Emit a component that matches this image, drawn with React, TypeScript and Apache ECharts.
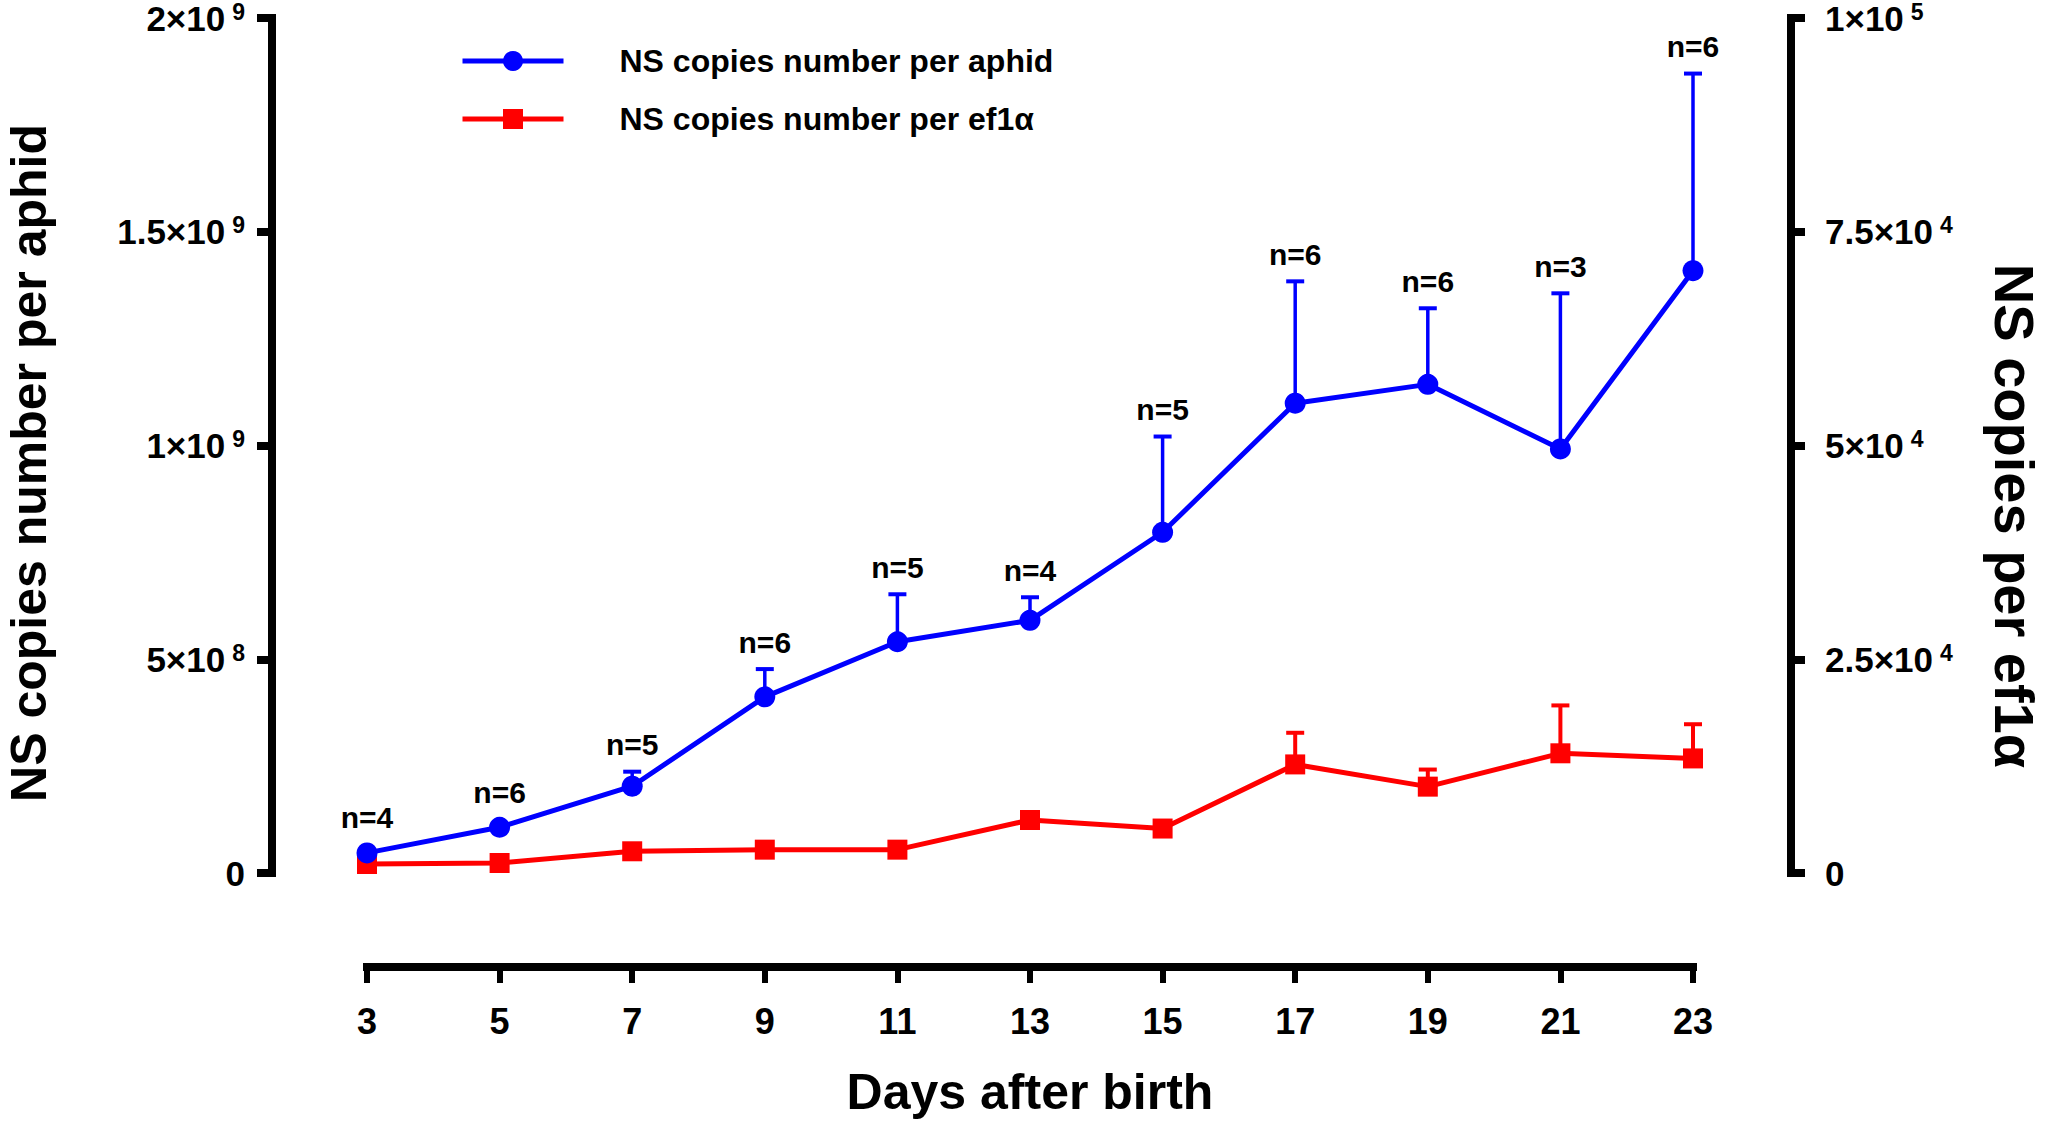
import React, { useEffect, useRef } from "react";
import * as echarts from "echarts";

const FONT = '"Liberation Sans", Arial, Helvetica, sans-serif';

const days = ["3", "5", "7", "9", "11", "13", "15", "17", "19", "21", "23"];
const nLabels = [4, 6, 5, 6, 5, 4, 5, 6, 6, 3, 6];

// NS copies number per aphid (left axis)
const blueMean = [0.047e9, 0.107e9, 0.203e9, 0.412e9, 0.541e9, 0.591e9, 0.797e9, 1.099e9, 1.143e9, 0.992e9, 1.409e9];
const blueSD = [0, 0, 0.034e9, 0.065e9, 0.111e9, 0.054e9, 0.224e9, 0.285e9, 0.178e9, 0.364e9, 0.461e9];

// NS copies per ef1α (right axis)
const redMean = [1.05e3, 1.17e3, 2.54e3, 2.73e3, 2.73e3, 6.2e3, 5.2e3, 12.7e3, 10.1e3, 14.0e3, 13.4e3];
const redSD = [0, 0, 0, 0, 0, 0, 0, 3.7e3, 2.0e3, 5.6e3, 4.0e3];

const leftAxis = { min: 0, max: 2e9, interval: 5e8 };
const rightAxis = { min: 0, max: 1e5, interval: 2.5e4 };

const blueName = "NS copies number per aphid";
const redName = "NS copies number per ef1α";

function sciLabel(v: number): string {
  if (v === 0) return "{b|0}";
  const exp = Math.floor(Math.log10(v) + 1e-9);
  const mant = Math.round((v / Math.pow(10, exp)) * 100) / 100;
  return `{b|${mant}×10}{s|${exp}}`;
}

const richLabel = {
  b: { fontSize: 35, fontWeight: "bold", fontFamily: FONT, color: "#000", lineHeight: 36 },
  s: { fontSize: 23, fontWeight: "bold", fontFamily: FONT, color: "#000", lineHeight: 23, verticalAlign: "top", padding: [0, 0, 0, 7] },
};

function errorBarSeries(name: string, mean: number[], sd: number[], axisIdx: number, color: string, lw: number) {
  return {
    type: "custom",
    name: name + " SD",
    yAxisIndex: axisIdx,
    z: 1,
    silent: true,
    data: mean.map((m, i) => [i, m, m + sd[i]]),
    renderItem: (params: any, api: any) => {
      const i = api.value(0);
      const m = api.value(1);
      const t = api.value(2);
      if (!(t > m)) return { type: "group", children: [] };
      const p0 = api.coord([i, m]);
      const p1 = api.coord([i, t]);
      const half = 9;
      return {
        type: "group",
        children: [
          { type: "line", shape: { x1: p0[0], y1: p0[1], x2: p1[0], y2: p1[1] }, style: { stroke: color, lineWidth: lw } },
          { type: "line", shape: { x1: p1[0] - half, y1: p1[1], x2: p1[0] + half, y2: p1[1] }, style: { stroke: color, lineWidth: 4 } },
        ],
      };
    },
  };
}

export default function App() {
  const ref = useRef<HTMLDivElement>(null);

  useEffect(() => {
    if (!ref.current) return;
    const chart = echarts.init(ref.current, undefined, { renderer: "svg" });
    const option: any = {
      animation: false,
      backgroundColor: "#ffffff",
      textStyle: { fontFamily: FONT },
      grid: { left: 367, right: 354, top: 18, bottom: 248, containLabel: false, outerBoundsMode: "none" },
      legend: {
        orient: "vertical",
        left: 455,
        top: 39,
        itemWidth: 101,
        itemHeight: 25,
        itemGap: 24,
        selectedMode: false,
        data: [blueName, redName],
        lineStyle: { width: 5 },
        textStyle: { fontSize: 32, fontWeight: "bold", color: "#000", fontFamily: FONT, lineHeight: 34, padding: [0, 0, 0, 51] },
      },
      xAxis: {
        type: "category",
        data: days,
        boundaryGap: false,
        offset: 94,
        name: "Days after birth",
        nameLocation: "middle",
        nameGap: 100,
        nameTextStyle: { fontSize: 50, fontWeight: "bold", color: "#000", fontFamily: FONT },
        axisLine: { onZero: false, lineStyle: { color: "#000", width: 8, cap: "square" } },
        axisTick: { length: 16, lineStyle: { color: "#000", width: 6 } },
        axisLabel: { margin: 36, fontSize: 36, fontWeight: "bold", color: "#000", fontFamily: FONT },
        splitLine: { show: false },
      },
      yAxis: [
        {
          type: "value",
          position: "left",
          offset: 95,
          min: leftAxis.min,
          max: leftAxis.max,
          interval: leftAxis.interval,
          axisLine: { show: true, onZero: false, lineStyle: { color: "#000", width: 8, cap: "square" } },
          axisTick: { show: true, length: 15, lineStyle: { color: "#000", width: 8 } },
          axisLabel: { margin: 27, formatter: (v: number) => sciLabel(v), rich: richLabel },
          splitLine: { show: false },
        },
        {
          type: "value",
          position: "right",
          offset: 98,
          min: rightAxis.min,
          max: rightAxis.max,
          interval: rightAxis.interval,
          axisLine: { show: true, onZero: false, lineStyle: { color: "#000", width: 8, cap: "square" } },
          axisTick: { show: true, length: 14, lineStyle: { color: "#000", width: 8 } },
          axisLabel: { margin: 34, formatter: (v: number) => sciLabel(v), rich: richLabel },
          splitLine: { show: false },
        },
      ],
      graphic: [
        {
          type: "text",
          x: 29,
          y: 463,
          rotation: Math.PI / 2,
          style: {
            text: "NS copies number per aphid",
            font: `bold 50px ${FONT}`,
            fill: "#000",
            align: "center",
            verticalAlign: "middle",
            textAlign: "center",
            textVerticalAlign: "middle",
          },
        },
        {
          type: "text",
          x: 2014,
          y: 516,
          rotation: -Math.PI / 2,
          style: {
            text: "NS copies per ef1α",
            font: `bold 56px ${FONT}`,
            fill: "#000",
            align: "center",
            verticalAlign: "middle",
            textAlign: "center",
            textVerticalAlign: "middle",
          },
        },
      ],
      series: [
        errorBarSeries(redName, redMean, redSD, 1, "#ff0000", 4),
        errorBarSeries(blueName, blueMean, blueSD, 0, "#0000ff", 3.5),
        {
          type: "line",
          name: redName,
          yAxisIndex: 1,
          data: redMean,
          z: 3,
          symbol: "rect",
          symbolSize: 20,
          itemStyle: { color: "#ff0000" },
          lineStyle: { color: "#ff0000", width: 5 },
        },
        {
          type: "line",
          name: blueName,
          yAxisIndex: 0,
          data: blueMean,
          z: 4,
          symbol: "circle",
          symbolSize: 21,
          itemStyle: { color: "#0000ff" },
          lineStyle: { color: "#0000ff", width: 5 },
        },
        {
          type: "custom",
          name: "n",
          yAxisIndex: 0,
          z: 5,
          silent: true,
          data: blueMean.map((m, i) => [i, m, m + blueSD[i]]),
          renderItem: (params: any, api: any) => {
            const i = api.value(0);
            const m = api.value(1);
            const t = api.value(2);
            const p = api.coord([i, t]);
            const off = t > m ? 27 : 35;
            return {
              type: "text",
              x: p[0],
              y: p[1] - off,
              style: {
                text: "n=" + nLabels[params.dataIndex],
                font: `bold 30px ${FONT}`,
                fill: "#000",
                align: "center",
                verticalAlign: "middle",
              },
            };
          },
        },
      ],
    };
    chart.setOption(option);
    return () => chart.dispose();
  }, []);

  return <div ref={ref} style={{ position: "fixed", left: 0, top: 0, width: 2047, height: 1121, background: "#fff" }} />;
}
